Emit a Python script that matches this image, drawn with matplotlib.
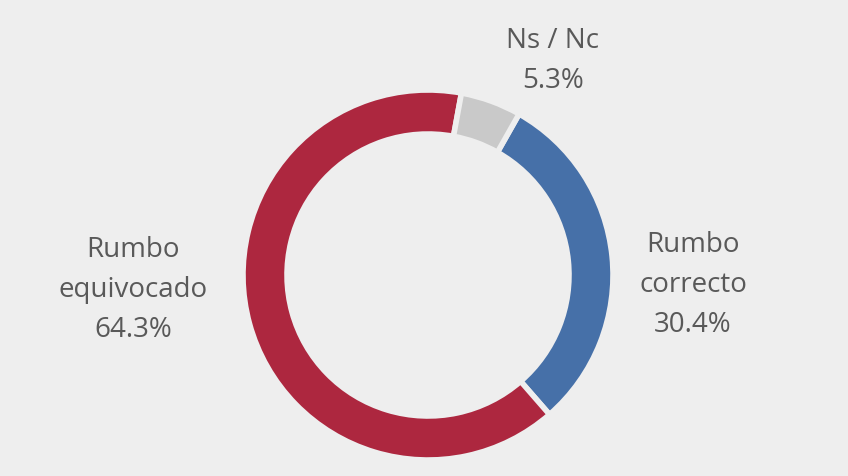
import matplotlib.pyplot as plt

# data
categories = ["Rumbo correcto", "Rumbo equivocado", "Ns / Nc"]
label_text = ["Rumbo\ncorrecto", "Rumbo\nequivocado", "Ns / Nc"]
values = [30.4, 64.3, 5.3]
colors = ["#4670A8", "#AD273F", "#C9C9C9"]

bg = "#EEEEEE"
text_color = "#595959"

fig = plt.figure(figsize=(8.48, 4.77), dpi=100, facecolor=bg)
ax = fig.add_axes([0, 0, 1, 1])
ax.set_facecolor(bg)

ax.pie(
    values,
    colors=colors,
    startangle=60.5,
    counterclock=False,
    center=(428, 201),
    radius=185,
    wedgeprops={"width": 44, "edgecolor": bg, "linewidth": 4},
    frame=True,
)
ax.set_xlim(0, 848)
ax.set_ylim(0, 477)
ax.set_aspect("equal")
ax.axis("off")

# label positions (pixels, y measured from bottom)
label_pos = [(693, 192), (133, 187), (553, 416)]
for name, val, (x, y) in zip(label_text, values, label_pos):
    ax.text(x, y, f"{name}\n{val:.1f}%", ha="center", va="center",
            fontsize=20, color=text_color, family="Open Sans",
            linespacing=1.55)

fig.savefig("out.png", dpi=100, facecolor=bg)
